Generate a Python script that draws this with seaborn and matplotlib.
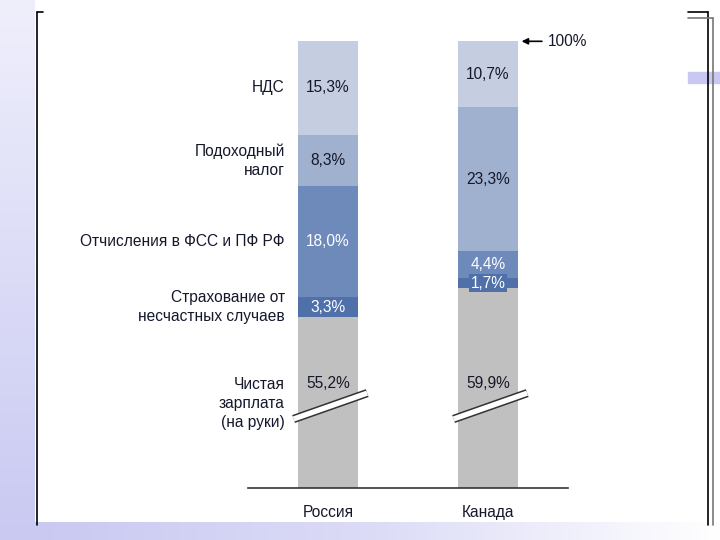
import matplotlib
matplotlib.use("Agg")
import matplotlib.pyplot as plt
import seaborn as sns
import numpy as np
import pandas as pd
from matplotlib.lines import Line2D
from matplotlib.patches import Rectangle

# data (shares of labour cost, %)
countries = ['Россия', 'Канада']
components = ['Чистая\nзарплата\n(на руки)', 'Страхование от\nнесчастных случаев',
              'Отчисления в ФСС и ПФ РФ', 'Подоходный\nналог', 'НДС']
russia = [55.2, 3.3, 18.0, 8.3, 15.3]
canada = [59.9, 1.7, 4.4, 23.3, 10.7]
layer_colors = ['#c0c0c0', '#4f70a9', '#6d8abb', '#9fb1cf', '#c5cde0']
text_colors = ['#15182a', 'white', 'white', '#15182a', '#15182a']
break_cut = 27.5  # part of the net wage bar hidden by the axis break

sns.set_style('white')
plt.rcParams['font.family'] = ['Liberation Sans', 'DejaVu Sans']
FS = 11.2

fig = plt.figure(figsize=(7.2, 5.4), dpi=100)
ax = fig.add_axes([248 / 720, 52 / 540, 320 / 720, 447 / 540])

values = np.array([russia, canada])            # shape (country, layer)
shown = values.copy()
shown[:, 0] = shown[:, 0] - break_cut
tops = shown.cumsum(axis=1)
bottoms = tops - shown

# stacked bars: draw cumulative heights, tallest first
for k in range(len(components) - 1, -1, -1):
    df = pd.DataFrame({'country': countries, 'height': tops[:, k]})
    sns.barplot(data=df, x='country', y='height', color=layer_colors[k],
                saturation=1, width=0.375, linewidth=0, ax=ax)

# value labels
for i in range(len(countries)):
    for k in range(len(components)):
        txt = f"{values[i, k]:.1f}%".replace('.', ',')
        if k == 0:
            y = 17  # just above the break
        else:
            y = (bottoms[i, k] + tops[i, k]) / 2
        bbox = None
        if k in (1, 2):
            bbox = dict(boxstyle='square,pad=0.1', fc=layer_colors[k], ec='none')
        ax.text(i, y, txt, ha='center', va='center', fontsize=FS,
                color=text_colors[k], bbox=bbox)

# category labels on the left, aligned with the Russia segments
for k, name in enumerate(components):
    y = (bottoms[0, k] + tops[0, k]) / 2 if k > 0 else 13.7
    ax.text(-0.27, y, name, ha='right', va='center', fontsize=FS,
            color='#15182a', linespacing=1.3, multialignment='right')

# axis break marks
for i in range(len(countries)):
    xs = [i - 0.215, i + 0.245]
    ys = [11.2, 15.4]
    ax.plot(xs, ys, color='#333333', lw=6, solid_capstyle='butt', clip_on=False, zorder=5)
    ax.plot(xs, ys, color='white', lw=3.8, solid_capstyle='butt', clip_on=False, zorder=6)

# 100% marker
ax.annotate('100%', xy=(1.21, tops[1, -1]), xytext=(1.375, tops[1, -1]),
            ha='left', va='center', fontsize=FS, color='#15182a',
            arrowprops=dict(arrowstyle='-|>', color='black', lw=1.2,
                            mutation_scale=9, shrinkA=2, shrinkB=0),
            annotation_clip=False)

ax.set_xlim(-0.5, 1.5)
ax.set_ylim(0, 72.55)
ax.set_xlabel('')
ax.set_ylabel('')
ax.set_yticks([])
ax.tick_params(axis='x', length=0, pad=12, labelsize=FS, labelcolor='#15182a')
for s in ['top', 'right', 'left']:
    ax.spines[s].set_visible(False)
ax.spines['bottom'].set_color('#333333')
ax.spines['bottom'].set_linewidth(1.2)
ax.patch.set_alpha(0)

# slide decorations
grad_v = np.linspace(0, 1, 256).reshape(-1, 1)
lav = matplotlib.colors.LinearSegmentedColormap.from_list('lav', ['#efeffc', '#c9c9f2'])
axl = fig.add_axes([0, 0, 35 / 720, 1], zorder=-1)
axl.imshow(grad_v, aspect='auto', cmap=lav, extent=[0, 1, 1, 0])
axl.axis('off')
grad_h = np.linspace(0, 1, 256).reshape(1, -1)
lav_h = matplotlib.colors.LinearSegmentedColormap.from_list('lavh', ['#c9c9f2', '#dcdcf7', '#ffffff'])
axb = fig.add_axes([35 / 720, 0, 685 / 720, 18 / 540], zorder=-1)
axb.imshow(grad_h, aspect='auto', cmap=lav_h)
axb.axis('off')

def fline(x0, y0, x1, y1, color='black', lw=1.2):
    fig.add_artist(Line2D([x0 / 720, x1 / 720], [1 - y0 / 540, 1 - y1 / 540],
                          color=color, lw=lw, transform=fig.transFigure))

fline(37, 12, 37, 525)
fline(37, 12, 43, 12)
fline(708, 12, 708, 525)
fline(713, 18, 713, 525, color='#777777')
fline(688, 12, 708, 12)
fline(688, 18, 713, 18, color='#777777')
fig.add_artist(Rectangle((688 / 720, 1 - 83 / 540), 32 / 720, 11 / 540,
                         color='#c8c8f2', transform=fig.transFigure, zorder=-1))

fig.savefig('out.png', dpi=100)
